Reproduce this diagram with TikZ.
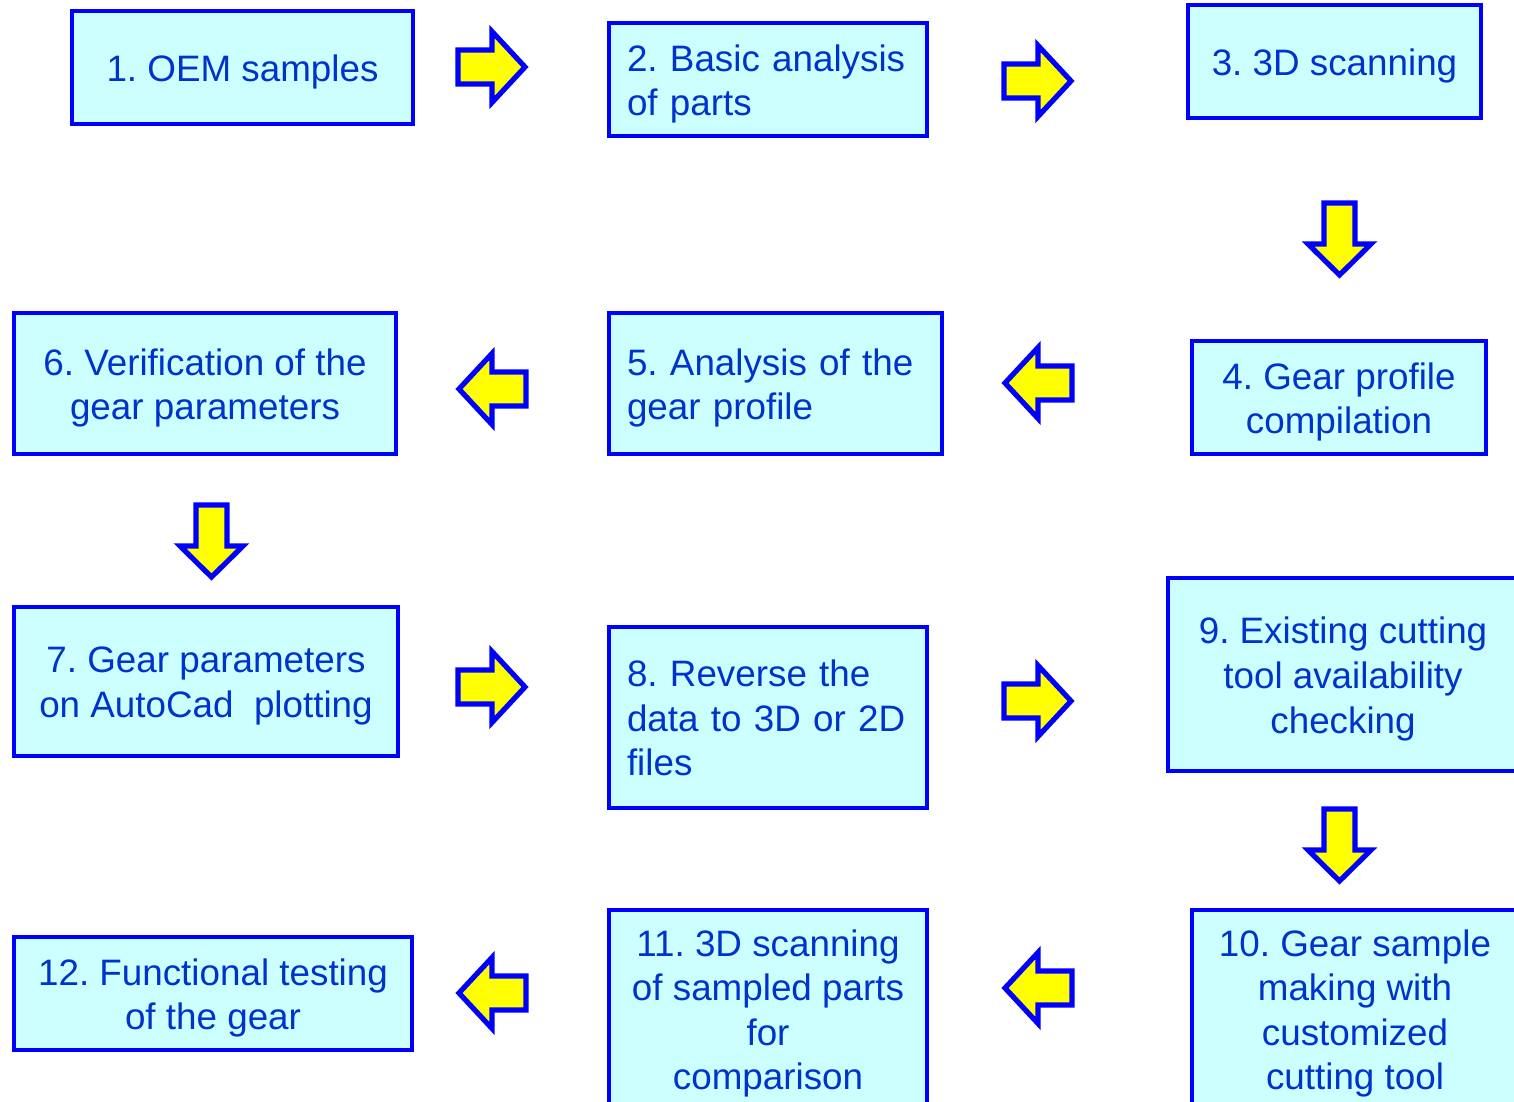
\documentclass[tikz,border=0pt]{standalone}
\usepackage{fontspec}
\setmainfont{Liberation Sans}
\definecolor{boxblue}{HTML}{0000FF}
\definecolor{boxfill}{HTML}{CCFFFF}
\definecolor{txtblue}{HTML}{0033CC}
\definecolor{arrowfill}{HTML}{FFFF00}
\tikzset{
  box/.style={draw=boxblue, line width=2.2pt, fill=boxfill, inner sep=0pt, outer sep=0pt},
  ct/.style={text=txtblue, font=\fontsize{18.4}{22.3}\selectfont,
    inner sep=0pt, yshift=-2.25pt, align=center},
  lt/.style={ct, align=left, inner xsep=9pt, text width=#1},
  arrowstyle/.style={draw=boxblue, fill=arrowfill, line width=2.6pt, line join=miter},
  harrow/.pic={\draw[arrowstyle] (-34,-17)--(0,-17)--(0,-35.5)--(33,0)--(0,35.5)--(0,17)--(-34,17)--cycle;},
  varrow/.pic={\draw[arrowstyle] (-15.5,-41)--(15.5,-41)--(15.5,0)--(31.5,0)--(0,31)--(-31.5,0)--(-15.5,0)--cycle;}
}
\begin{document}
\frenchspacing
\hyphenpenalty=10000
\begin{tikzpicture}[x=0.5pt,y=-0.5pt]
\useasboundingbox (0,0) rectangle (1514,1102);
\clip (0,0) rectangle (1514,1102);
% boxes
\node[box, minimum width=170.5pt, minimum height=56.5pt,
  label={[ct]center:{1. OEM samples}}] (b1) at (242.5,67.5) {};
\node[box, minimum width=159pt, minimum height=56.5pt,
  label={[lt=141pt]center:{2. Basic~analysis\\of parts}}] (b2) at (768,79.5) {};
\node[box, minimum width=146.5pt, minimum height=56.5pt,
  label={[ct]center:{3. 3D scanning}}] (b3) at (1334.5,61.5) {};
\node[box, minimum width=147pt, minimum height=56.5pt,
  label={[ct]center:{4. Gear profile\\compilation}}] (b4) at (1339,397.5) {};
\node[box, minimum width=166.5pt, minimum height=70.5pt,
  label={[lt=148.5pt]center:{5. Analysis of the\\gear profile}}] (b5) at (775.5,383.5) {};
\node[box, minimum width=191pt, minimum height=70.5pt,
  label={[ct]center:{6. Verification of the\\gear parameters}}] (b6) at (205,383.5) {};
\node[box, minimum width=192pt, minimum height=74.5pt,
  label={[ct]center:{7. Gear parameters\\on AutoCad\ \ plotting}}] (b7) at (206,681.5) {};
\node[box, minimum width=159pt, minimum height=90.5pt,
  label={[lt=141pt, yshift=2pt]center:{8. Reverse the\\data to 3D or 2D\\files}}] (b8) at (768,717.5) {};
\node[box, minimum width=175pt, minimum height=96.5pt,
  label={[ct]center:{9. Existing cutting\\tool availability\\checking}}] (b9) at (1343,674.5) {};
\node[box, minimum width=163pt, minimum height=99pt,
  label={[ct]center:{10. Gear sample\\making with\\customized\\cutting tool}}] (b10) at (1355,1009) {};
\node[box, minimum width=159pt, minimum height=99pt,
  label={[ct]center:{11. 3D scanning\\of sampled parts\\for\\comparison}}] (b11) at (768,1009) {};
\node[box, minimum width=199pt, minimum height=56.5pt,
  label={[ct]center:{12. Functional testing\\of the gear}}] (b12) at (213,993.5) {};
% block arrows
\pic (a1) at (492,67) {harrow};
\pic (a2) at (1038,81) {harrow};
\pic (a3) at (1339.5,244) {varrow};
\pic[xscale=-1] (a4) at (1038,383) {harrow};
\pic[xscale=-1] (a5) at (492,389) {harrow};
\pic (a6) at (211.5,546) {varrow};
\pic (a7) at (492,687) {harrow};
\pic (a8) at (1038,701) {harrow};
\pic (a9) at (1339.5,850) {varrow};
\pic[xscale=-1] (a10) at (1038,988) {harrow};
\pic[xscale=-1] (a11) at (492,993) {harrow};
\end{tikzpicture}
\end{document}
